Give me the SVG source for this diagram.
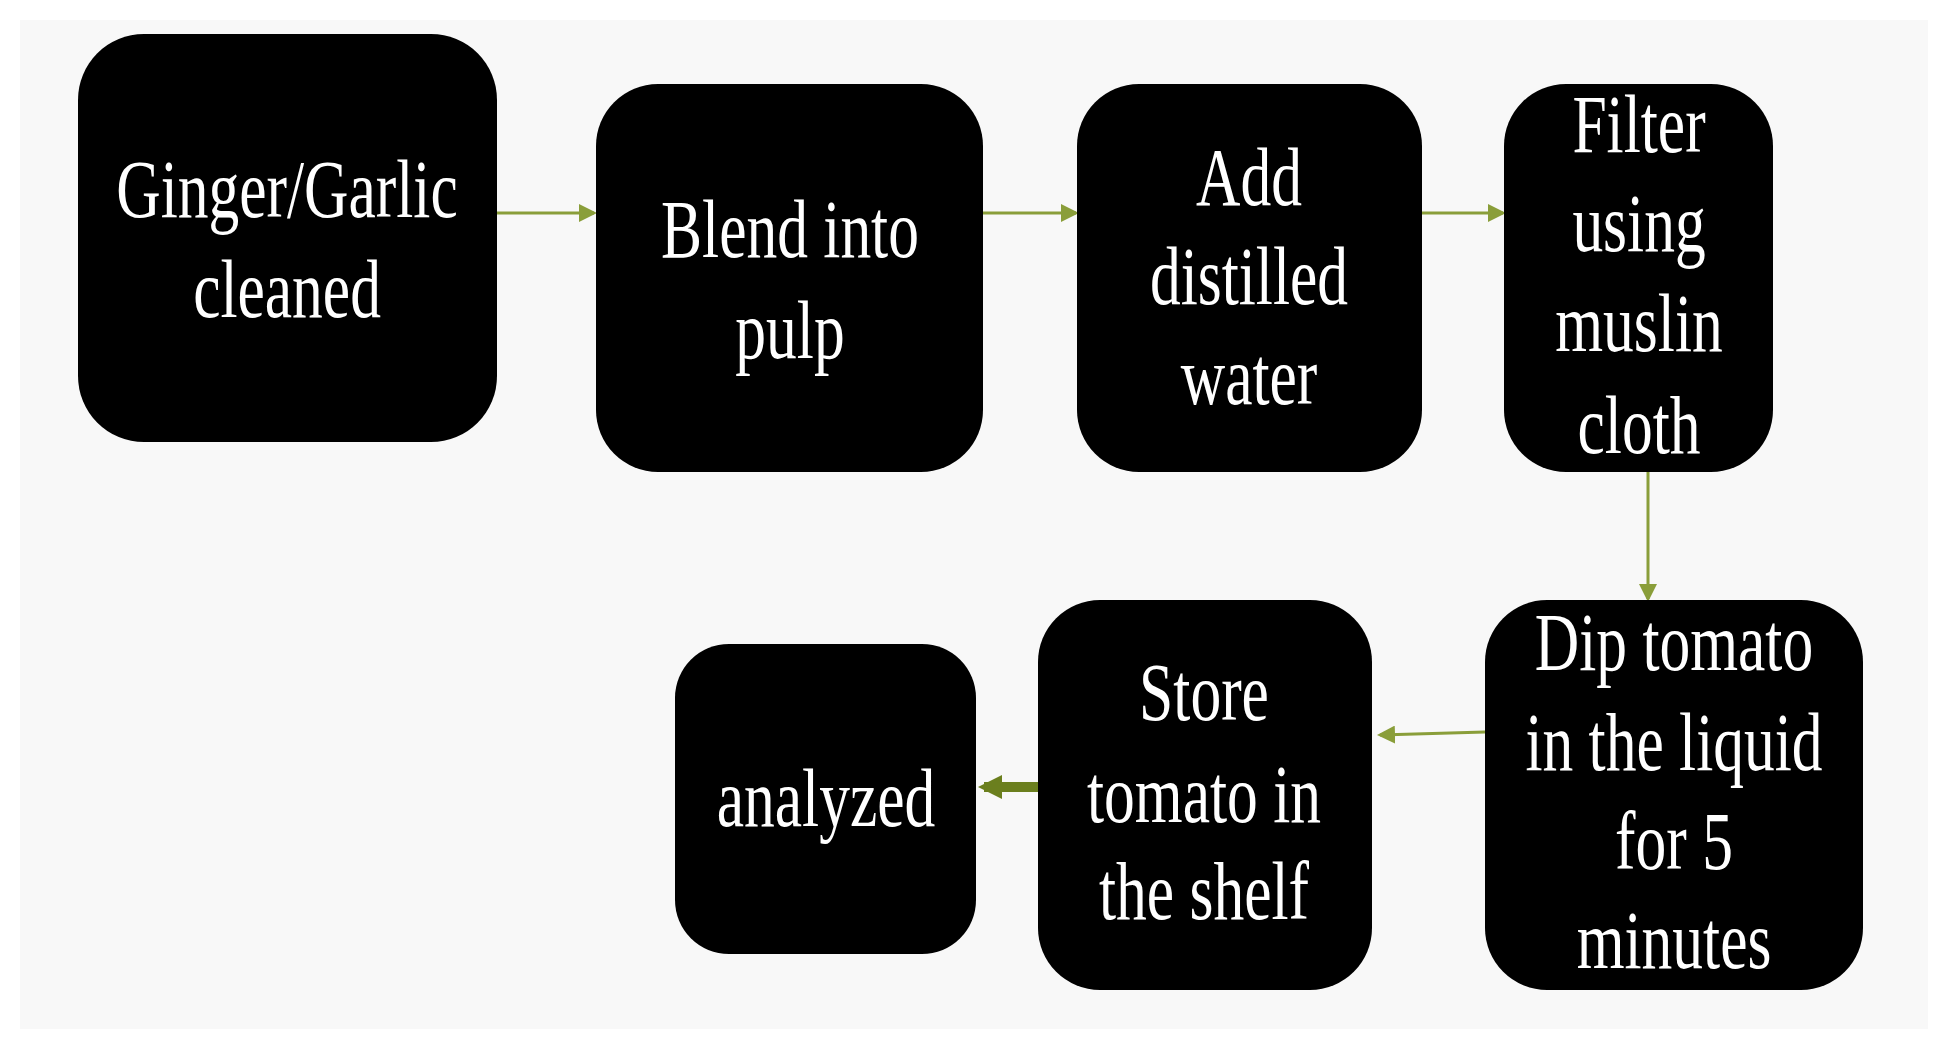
<svg xmlns="http://www.w3.org/2000/svg" width="1947" height="1049" viewBox="0 0 1947 1049">
<defs>
<style>
.box{fill:#000}
.t{font-family:"Liberation Serif",serif;font-size:82px;fill:#fff;text-anchor:middle}
.c{fill:none;stroke:#8a9e3a;stroke-width:3}
.thick{fill:none;stroke:#6b7f1e;stroke-width:10}
</style>
<marker id="ah" markerWidth="6" markerHeight="6" refX="5" refY="3" orient="auto" markerUnits="strokeWidth">
<path d="M0,0 L6,3 L0,6 z" fill="#8a9e3a"/>
</marker>
<marker id="ah2" markerWidth="2.4" markerHeight="2.4" refX="1.8" refY="1.2" orient="auto" markerUnits="strokeWidth">
<path d="M0,0 L2.4,1.2 L0,2.4 z" fill="#6b7f1e"/>
</marker>
</defs>
<rect width="1947" height="1049" fill="#fff"/>
<rect x="20" y="20" width="1908" height="1009" fill="#f8f8f8"/>
<g id="connectors">
<line class="c" x1="497" y1="213" x2="594" y2="213" marker-end="url(#ah)"/>
<line class="c" x1="983" y1="213" x2="1076" y2="213" marker-end="url(#ah)"/>
<line class="c" x1="1422" y1="213" x2="1503" y2="213" marker-end="url(#ah)"/>
<line class="c" x1="1648" y1="472" x2="1648" y2="599" marker-end="url(#ah)"/>
<line class="c" x1="1485" y1="732" x2="1380" y2="735" marker-end="url(#ah)"/>
<line class="thick" x1="1038" y1="787" x2="984" y2="787" marker-end="url(#ah2)"/>
</g>
<g id="n1">
<rect class="box" x="78" y="34" width="419" height="408" rx="66"/>
<g transform="translate(287 0) scale(0.75 1)"><text class="t" x="0" y="217">Ginger/Garlic</text><text class="t" x="0" y="317">cleaned</text></g>
</g>
<g id="n2">
<rect class="box" x="596" y="84" width="387" height="388" rx="62"/>
<g transform="translate(790 0) scale(0.75 1)"><text class="t" x="0" y="257">Blend into</text><text class="t" x="0" y="358">pulp</text></g>
</g>
<g id="n3">
<rect class="box" x="1077" y="84" width="345" height="388" rx="62"/>
<g transform="translate(1249 0) scale(0.75 1)"><text class="t" x="0" y="205">Add</text><text class="t" x="0" y="304">distilled</text><text class="t" x="0" y="404">water</text></g>
</g>
<g id="n4">
<rect class="box" x="1504" y="84" width="269" height="388" rx="62"/>
<g transform="translate(1639 0) scale(0.75 1)"><text class="t" x="0" y="152">Filter</text><text class="t" x="0" y="251">using</text><text class="t" x="0" y="351">muslin</text><text class="t" x="0" y="453">cloth</text></g>
</g>
<g id="n5">
<rect class="box" x="1485" y="600" width="378" height="390" rx="62"/>
<g transform="translate(1674 0) scale(0.75 1)"><text class="t" x="0" y="670">Dip tomato</text><text class="t" x="0" y="770">in the liquid</text><text class="t" x="0" y="869">for 5</text><text class="t" x="0" y="968">minutes</text></g>
</g>
<g id="n6">
<rect class="box" x="1038" y="600" width="334" height="390" rx="62"/>
<g transform="translate(1204 0) scale(0.75 1)"><text class="t" x="0" y="720">Store</text><text class="t" x="0" y="822">tomato in</text><text class="t" x="0" y="919">the shelf</text></g>
</g>
<g id="n7">
<rect class="box" x="675" y="644" width="301" height="310" rx="54"/>
<g transform="translate(826 0) scale(0.75 1)"><text class="t" x="0" y="826">analyzed</text></g>
</g>
</svg>
